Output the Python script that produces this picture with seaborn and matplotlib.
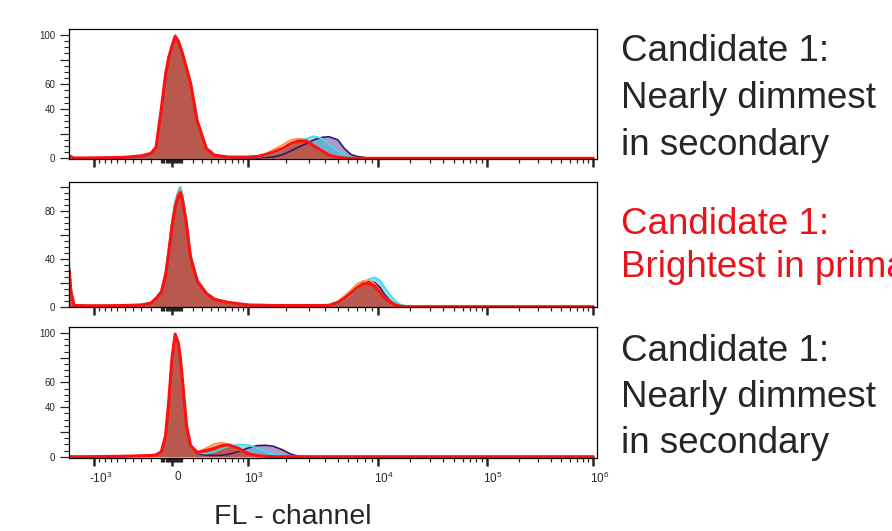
import numpy as np
import pandas as pd
import seaborn as sns
import matplotlib
matplotlib.use("Agg")
import matplotlib.pyplot as plt
from matplotlib.ticker import FixedLocator, FixedFormatter
from matplotlib.transforms import ScaledTranslation

# ---- data (FL value grid + event counts, % of max) ----
p1_fl = [-1650, -1500, -1200, -800, -500, -300, -200, -150, -100, -60, -30, 0, 30, 60, 100, 140, 180, 250,
         350, 450, 650, 1000, 1200, 1400, 1600, 1900, 2200, 2500, 2900, 3300, 3800, 4300, 5000, 5600,
         6300, 7000, 7800, 8600, 1000000]
p1_purple = [2.5, 0.3, 0.3, 0.5, 0.8, 2, 4, 9, 40, 68, 82, 91, 99, 95, 85, 73, 61, 30, 8, 2.5, 1,
             0.5, 0.5, 0.8, 1, 3, 6, 9, 12, 15, 17, 17.5, 15, 8, 3, 1.5, 0.8, 0, 0]
p1_cyan = [3, 0.3, 0.3, 0.5, 0.8, 2, 4, 9, 40, 69, 83, 92, 100, 96, 86, 74, 61, 30, 8, 2.5, 1,
           0.8, 1, 2, 4, 7, 11, 14, 16, 18, 16, 11, 6, 3, 1, 0.3, 0, 0, 0]
p1_orange = [2, 0.3, 0.3, 0.5, 0.8, 2, 4, 9, 40, 68, 82, 91, 99, 95, 85, 73, 61, 30, 8, 2.5, 1,
             1.2, 2, 4, 7, 11, 15, 16, 15, 10, 5, 2, 0.5, 0, 0, 0, 0, 0, 0]
p1_red = [1.5, 0.3, 0.3, 0.5, 0.8, 2, 4, 9, 40, 68, 82, 91, 99, 95, 85, 73, 61, 30, 8, 2.5, 1,
          1, 1.5, 3, 5, 8, 12, 14, 14, 10, 6, 2.5, 0.8, 0.3, 0, 0, 0, 0, 0]

p2_fl = [-1650, -1600, -1500, -1200, -800, -500, -300, -200, -150, -100, -60, -30, 0, 30, 60, 80, 100,
         140, 180, 250, 350, 450, 650, 1000, 1600, 2500, 3800, 4300, 5000, 5600, 6300, 7000, 7800,
         8600, 9500, 10500, 11600, 13000, 14500, 16000, 18000, 20000, 1000000]
p2_purple = [32, 14, 1, 0.8, 0.8, 1, 1.5, 3, 7, 13, 28, 48, 70, 86, 96, 99, 93, 70, 43, 22, 11.5, 6.5, 3.5, 1.5, 1, 1,
             0.8, 1, 3, 6.5, 11, 16, 20, 21, 20, 16, 10, 5, 2, 0.8, 0, 0, 0]
p2_cyan = [36, 17, 1, 0.8, 0.8, 1, 1.5, 3, 7, 14, 30, 50, 72, 88, 97, 100, 94, 72, 44, 23, 12, 7, 3.5, 1.5, 1, 1,
           0.8, 1, 3, 6, 10, 15, 19.5, 23, 24.5, 22, 16, 10, 5, 2, 0.8, 0, 0]
p2_orange = [33, 15, 1, 0.8, 0.8, 1, 1.5, 3, 7, 13, 28, 48, 70, 86, 95, 98, 92, 70, 43, 22, 11.5, 6.5, 3.5, 1.5, 1, 1,
             1, 1.5, 4.5, 9, 14, 19, 21.5, 22, 19, 13, 8, 4.5, 2, 0.8, 0.3, 0, 0]
p2_red = [30, 13, 1, 0.8, 0.8, 1, 1.5, 3, 7, 12, 26, 45, 67, 83, 92, 95, 89, 68, 41, 21, 11, 6, 3.5, 1.5, 1, 1,
          1, 1.2, 3.5, 7, 11.5, 16, 19, 19.5, 17, 12, 7, 4, 1.5, 0.5, 0, 0, 0]

p3_fl = [-1650, -1200, -800, -500, -300, -200, -150, -100, -60, -30, 0, 30, 60, 80, 100, 140, 180, 250,
         350, 450, 550, 650, 800, 1000, 1200, 1400, 1600, 1900, 2200, 2500, 2900, 1000000]
p3_purple = [0, 0, 0.2, 0.4, 0.8, 1, 1.5, 4, 17, 45, 80, 99, 92, 80, 62, 25, 9,
             2.5, 1.2, 1, 1.2, 2, 4, 7, 9, 9.2, 8.5, 5.5, 2, 0.5, 0, 0]
p3_cyan = [0, 0, 0.2, 0.4, 0.8, 1, 1.5, 4, 17, 45, 80, 99, 92, 80, 62, 25, 9,
           3, 2.5, 4, 6.5, 8.5, 9.8, 9.5, 7, 4, 2, 0.5, 0, 0, 0, 0]
p3_orange = [0, 0, 0.2, 0.4, 0.8, 1, 1.5, 4, 17, 46, 81, 100, 93, 81, 63, 26, 9,
             3.5, 7, 10.5, 11.4, 10, 6, 2.5, 1, 0.3, 0, 0, 0, 0, 0, 0]
p3_red = [0, 0, 0.2, 0.4, 0.8, 1, 1.5, 4, 17, 45, 80, 99, 92, 80, 62, 25, 9,
          3.5, 5, 7, 9, 9.5, 7, 2.5, 0.8, 0.3, 0, 0, 0, 0, 0, 0]

samples = ["purple", "cyan", "orange", "red"]
line_colors = {"purple": "#3d1466", "cyan": "#2ee6f0", "orange": "#ff9040", "red": "#ff1010"}
fill_colors = {"purple": "#8a70b8", "cyan": "#4fb8d0", "orange": "#f0a060", "red": "#b8453d"}
fill_alpha = {"purple": 0.7, "cyan": 0.55, "orange": 0.6, "red": 0.8}

# biexponential-like display axis, calibrated on the tick marks
axis_vals = np.array([-1e4, -1e3, 0, 1e3, 1e4, 1e5, 1e6, 1e7])
axis_pos = np.array([-26.5, 94.3, 172, 248, 377.7, 486.7, 593.3, 699.9])
axis_g = np.arcsinh(axis_vals / 500)


def fwd(x):
    return np.interp(np.arcsinh(np.asarray(x, dtype=float) / 500), axis_g, axis_pos)


def inv(p):
    return 500 * np.sinh(np.interp(np.asarray(p, dtype=float), axis_pos, axis_g))


sns.set_style("ticks")
plt.rcParams['font.family'] = ['Liberation Sans', 'DejaVu Sans']
plt.rcParams['mathtext.fontset'] = 'custom'
plt.rcParams['mathtext.rm'] = 'Liberation Sans'
plt.rcParams['mathtext.it'] = 'Liberation Sans:italic'
plt.rcParams['mathtext.bf'] = 'Liberation Sans:bold'

fig = plt.figure(figsize=(8.92, 5.31), dpi=100)
W, H = 892, 531

panels = [
    (p1_fl, {"purple": p1_purple, "cyan": p1_cyan, "orange": p1_orange, "red": p1_red},
     (29.3, 159.3), (-0.8, 104.6), {0: "0", 40: "40", 60: "60", 100: "100"}),
    (p2_fl, {"purple": p2_purple, "cyan": p2_cyan, "orange": p2_orange, "red": p2_red},
     (181.7, 307.3), (-0.5, 104.0), {0: "0", 40: "40", 80: "80"}),
    (p3_fl, {"purple": p3_purple, "cyan": p3_cyan, "orange": p3_orange, "red": p3_red},
     (327.3, 457.7), (-0.8, 104.6), {0: "0", 40: "40", 60: "60", 100: "100"}),
]

major_x = [-1e3, 0, 1e3, 1e4, 1e5, 1e6]
major_lab = ["-$\\mathregular{10^3}$", "0", "$\\mathregular{10^3}$", "$\\mathregular{10^4}$",
             "$\\mathregular{10^5}$", "$\\mathregular{10^6}$"]
minor_x = ([-k * 100 for k in range(1, 10)] + [-k * 10 for k in range(1, 10)] +
           [k * 10 for k in range(1, 10)] + [k * 100 for k in range(1, 10)] +
           [k * 1000 for k in range(2, 10)] + [k * 10000 for k in range(2, 10)] +
           [k * 100000 for k in range(2, 10)])

for i, (fl, series, (top, bot), ylim, ylabels) in enumerate(panels):
    ax = fig.add_axes([69 / W, 1 - bot / H, (597 - 69) / W, (bot - top) / H])
    ax.set_xscale('function', functions=(fwd, inv))
    ax.set_xlim(inv(69), inv(597))
    ax.set_ylim(*ylim)

    for s in samples:
        ax.fill_between(fl, series[s], 0, color=fill_colors[s], alpha=fill_alpha[s], linewidth=0)
    for s in samples:
        df = pd.DataFrame({"fl": fl, "count": series[s]})
        sns.lineplot(data=df, x="fl", y="count", ax=ax, color=line_colors[s],
                     linewidth=2.2 if s == "red" else 1.2, estimator=None, sort=False)

    ax.set_xlabel("")
    ax.set_ylabel("")
    ax.xaxis.set_major_locator(FixedLocator(major_x))
    ax.xaxis.set_minor_locator(FixedLocator(minor_x))
    ax.xaxis.set_major_formatter(FixedFormatter(major_lab))
    ax.yaxis.set_major_locator(FixedLocator([0, 20, 40, 60, 80, 100]))
    ax.yaxis.set_minor_locator(FixedLocator(list(range(5, 101, 5))))
    ax.yaxis.set_major_formatter(FixedFormatter([ylabels.get(v, "") for v in [0, 20, 40, 60, 80, 100]]))
    ax.tick_params(axis='x', which='major', direction='out', length=5.5, width=1.8, labelsize=8.5, pad=4,
                   labelbottom=(i == 2))
    ax.tick_params(axis='x', which='minor', direction='out', length=3.2, width=0.9)
    ax.tick_params(axis='y', which='major', direction='out', length=6.5, width=0.9, labelsize=7, pad=3.5)
    ax.tick_params(axis='y', which='minor', direction='out', length=3.5, width=0.8)
    for sp in ax.spines.values():
        sp.set_visible(True)
        sp.set_linewidth(0.9)
        sp.set_color("black")
    if i == 2:
        for lab in ax.get_xticklabels():
            lab.set_transform(lab.get_transform() + ScaledTranslation(6 / 100, 0, fig.dpi_scale_trans))

# axis title
fig.text(293 / W, 1 - 524 / H, "FL - channel", fontsize=20.5, color="#262626", ha="center", va="baseline")

# annotations on the right
notes = [
    ("Candidate 1:", 61, "#262626"), ("Nearly dimmest", 108, "#262626"), ("in secondary", 155, "#262626"),
    ("Candidate 1:", 234, "#e8141b"), ("Brightest in primary", 277, "#e8141b"),
    ("Candidate 1:", 361, "#262626"), ("Nearly dimmest", 407, "#262626"), ("in secondary", 453, "#262626"),
]
for txt, yb, col in notes:
    fig.text(621 / W, 1 - yb / H, txt, fontsize=26.5, color=col, ha="left", va="baseline")

fig.savefig("out.png", dpi=100)
